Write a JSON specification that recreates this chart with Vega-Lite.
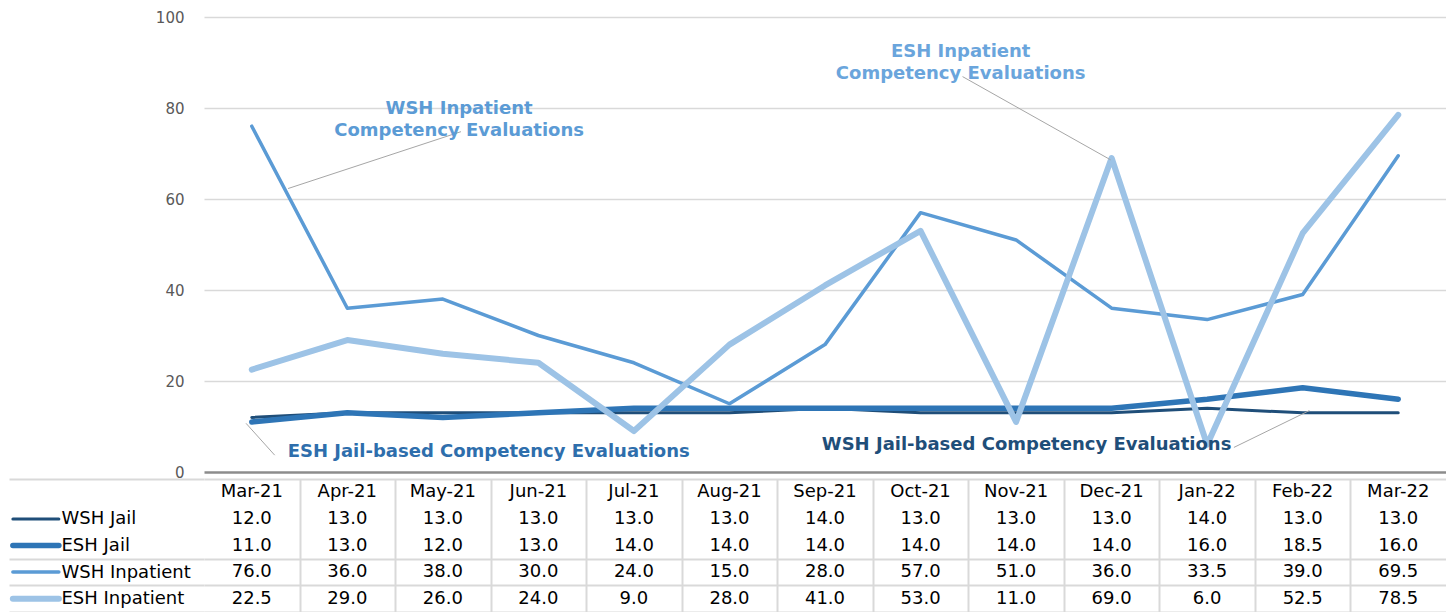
{
  "$schema": "https://vega.github.io/schema/vega-lite/v6.json",
  "padding": {"left": 0, "top": 10, "right": 0, "bottom": 0},
  "background": "white",
  "spacing": 7,
  "bounds": "flush",
  "config": {"view": {"stroke": null}, "font": "DejaVu Sans"},
  "datasets": {
    "evals": [
      {"i": 0, "month": "Mar-21", "series": "WSH Jail", "value": 12},
      {"i": 1, "month": "Apr-21", "series": "WSH Jail", "value": 13},
      {"i": 2, "month": "May-21", "series": "WSH Jail", "value": 13},
      {"i": 3, "month": "Jun-21", "series": "WSH Jail", "value": 13},
      {"i": 4, "month": "Jul-21", "series": "WSH Jail", "value": 13},
      {"i": 5, "month": "Aug-21", "series": "WSH Jail", "value": 13},
      {"i": 6, "month": "Sep-21", "series": "WSH Jail", "value": 14},
      {"i": 7, "month": "Oct-21", "series": "WSH Jail", "value": 13},
      {"i": 8, "month": "Nov-21", "series": "WSH Jail", "value": 13},
      {"i": 9, "month": "Dec-21", "series": "WSH Jail", "value": 13},
      {"i": 10, "month": "Jan-22", "series": "WSH Jail", "value": 14},
      {"i": 11, "month": "Feb-22", "series": "WSH Jail", "value": 13},
      {"i": 12, "month": "Mar-22", "series": "WSH Jail", "value": 13},
      {"i": 0, "month": "Mar-21", "series": "ESH Jail", "value": 11},
      {"i": 1, "month": "Apr-21", "series": "ESH Jail", "value": 13},
      {"i": 2, "month": "May-21", "series": "ESH Jail", "value": 12},
      {"i": 3, "month": "Jun-21", "series": "ESH Jail", "value": 13},
      {"i": 4, "month": "Jul-21", "series": "ESH Jail", "value": 14},
      {"i": 5, "month": "Aug-21", "series": "ESH Jail", "value": 14},
      {"i": 6, "month": "Sep-21", "series": "ESH Jail", "value": 14},
      {"i": 7, "month": "Oct-21", "series": "ESH Jail", "value": 14},
      {"i": 8, "month": "Nov-21", "series": "ESH Jail", "value": 14},
      {"i": 9, "month": "Dec-21", "series": "ESH Jail", "value": 14},
      {"i": 10, "month": "Jan-22", "series": "ESH Jail", "value": 16},
      {"i": 11, "month": "Feb-22", "series": "ESH Jail", "value": 18.5},
      {"i": 12, "month": "Mar-22", "series": "ESH Jail", "value": 16},
      {"i": 0, "month": "Mar-21", "series": "WSH Inpatient", "value": 76},
      {"i": 1, "month": "Apr-21", "series": "WSH Inpatient", "value": 36},
      {"i": 2, "month": "May-21", "series": "WSH Inpatient", "value": 38},
      {"i": 3, "month": "Jun-21", "series": "WSH Inpatient", "value": 30},
      {"i": 4, "month": "Jul-21", "series": "WSH Inpatient", "value": 24},
      {"i": 5, "month": "Aug-21", "series": "WSH Inpatient", "value": 15},
      {"i": 6, "month": "Sep-21", "series": "WSH Inpatient", "value": 28},
      {"i": 7, "month": "Oct-21", "series": "WSH Inpatient", "value": 57},
      {"i": 8, "month": "Nov-21", "series": "WSH Inpatient", "value": 51},
      {"i": 9, "month": "Dec-21", "series": "WSH Inpatient", "value": 36},
      {"i": 10, "month": "Jan-22", "series": "WSH Inpatient", "value": 33.5},
      {"i": 11, "month": "Feb-22", "series": "WSH Inpatient", "value": 39},
      {"i": 12, "month": "Mar-22", "series": "WSH Inpatient", "value": 69.5},
      {"i": 0, "month": "Mar-21", "series": "ESH Inpatient", "value": 22.5},
      {"i": 1, "month": "Apr-21", "series": "ESH Inpatient", "value": 29},
      {"i": 2, "month": "May-21", "series": "ESH Inpatient", "value": 26},
      {"i": 3, "month": "Jun-21", "series": "ESH Inpatient", "value": 24},
      {"i": 4, "month": "Jul-21", "series": "ESH Inpatient", "value": 9},
      {"i": 5, "month": "Aug-21", "series": "ESH Inpatient", "value": 28},
      {"i": 6, "month": "Sep-21", "series": "ESH Inpatient", "value": 41},
      {"i": 7, "month": "Oct-21", "series": "ESH Inpatient", "value": 53},
      {"i": 8, "month": "Nov-21", "series": "ESH Inpatient", "value": 11},
      {"i": 9, "month": "Dec-21", "series": "ESH Inpatient", "value": 69},
      {"i": 10, "month": "Jan-22", "series": "ESH Inpatient", "value": 6},
      {"i": 11, "month": "Feb-22", "series": "ESH Inpatient", "value": 52.5},
      {"i": 12, "month": "Mar-22", "series": "ESH Inpatient", "value": 78.5}
    ],
    "notes": [
      {"note": "WSH Inpatient", "i": 2.17, "v": 79.8, "label": ["WSH Inpatient", "Competency Evaluations"]},
      {"note": "ESH Inpatient", "i": 7.42, "v": 92.2, "label": ["ESH Inpatient", "Competency Evaluations"]},
      {"note": "ESH Jail", "i": 2.48, "v": 4.4, "label": ["ESH Jail-based Competency Evaluations"]},
      {"note": "WSH Jail", "i": 8.11, "v": 5.9, "label": ["WSH Jail-based Competency Evaluations"]}
    ],
    "leaders": [
      {"note": "WSH Inpatient", "i1": 0.38, "v1": 62.3, "i2": 2.19, "v2": 74.8},
      {"note": "ESH Inpatient", "i1": 7.44, "v1": 86.9, "i2": 8.99, "v2": 68.6},
      {"note": "ESH Jail", "i1": -0.06, "v1": 10.7, "i2": 0.24, "v2": 3.7},
      {"note": "WSH Jail", "i1": 10.28, "v1": 5.4, "i2": 11.07, "v2": 13.5}
    ]
  },
  "vconcat": [
    {
      "width": 1242,
      "height": 455,
      "layer": [
        {
          "data": {"name": "evals"},
          "mark": {"type": "line", "strokeJoin": "round", "strokeCap": "round"},
          "encoding": {
            "x": {"field": "i", "type": "quantitative", "scale": {"domain": [-0.5, 12.5], "nice": false, "zero": false}, "axis": null},
            "y": {
              "field": "value", "type": "quantitative",
              "scale": {"domain": [0, 100], "nice": false},
              "axis": {
                "values": [0, 20, 40, 60, 80, 100], "title": null, "domain": false, "ticks": false,
                "labelFont": "DejaVu Sans", "labelFontSize": 15, "labelColor": "#595959", "labelPadding": 20,
                "gridColor": {"condition": {"test": "datum.value === 0", "value": "#8c8c8c"}, "value": "#d9d9d9"},
                "gridWidth": {"condition": {"test": "datum.value === 0", "value": 2.5}, "value": 1.5}
              }
            },
            "color": {"field": "series", "type": "nominal", "scale": {"domain": ["WSH Jail", "ESH Jail", "WSH Inpatient", "ESH Inpatient"], "range": ["#1f4e79", "#2e75b6", "#5b9bd5", "#9dc3e6"]}, "legend": null},
            "strokeWidth": {"field": "series", "type": "ordinal", "scale": {"type": "ordinal", "domain": ["WSH Jail", "ESH Jail", "WSH Inpatient", "ESH Inpatient"], "range": [3, 5.5, 3.5, 6]}, "legend": null}
          }
        },
        {
          "data": {"name": "leaders"},
          "mark": {"type": "rule", "color": "#a6a6a6", "strokeWidth": 1},
          "encoding": {
            "x": {"field": "i1", "type": "quantitative"},
            "x2": {"field": "i2"},
            "y": {"field": "v1", "type": "quantitative"},
            "y2": {"field": "v2"}
          }
        },
        {
          "data": {"name": "notes"},
          "mark": {"type": "text", "font": "DejaVu Sans", "fontWeight": "bold", "fontSize": 18, "lineHeight": 22, "align": "center", "baseline": "middle"},
          "encoding": {
            "x": {"field": "i", "type": "quantitative"},
            "y": {"field": "v", "type": "quantitative"},
            "text": {"field": "label"},
            "fill": {"field": "note", "type": "nominal", "scale": {"domain": ["WSH Inpatient", "ESH Inpatient", "ESH Jail", "WSH Jail"], "range": ["#5b9bd5", "#6aa5dc", "#2e6eac", "#1f4e79"]}, "legend": null}
          }
        }
      ]
    },
    {
      "width": 1242,
      "height": 133,
      "data": {"name": "evals"},
      "encoding": {
        "y": {
          "field": "series", "type": "nominal",
          "scale": {"domain": [" ", "WSH Jail", "ESH Jail", "WSH Inpatient", "ESH Inpatient"], "paddingInner": 0, "paddingOuter": 0},
          "axis": {
            "title": null, "domain": false, "tickBand": "extent",
            "ticks": true, "tickSize": 195, "tickColor": "#d9d9d9", "tickWidth": 2,
            "tickOpacity": {"condition": {"test": "datum.value === ' ' || datum.value === 'WSH Jail'", "value": 0}, "value": 1},
            "grid": true, "gridColor": "#d9d9d9", "gridWidth": 2,
            "gridOpacity": {"condition": {"test": "datum.value === ' ' || datum.value === 'WSH Jail'", "value": 0}, "value": 1},
            "labelAlign": "left", "labelPadding": -52, "labelBaseline": "middle",
            "labelFont": "DejaVu Sans", "labelFontSize": 18, "labelColor": "#000000"
          }
        }
      },
      "layer": [
        {
          "mark": {"type": "text", "font": "DejaVu Sans", "fontSize": 18, "color": "#000000"},
          "encoding": {
            "x": {
              "field": "i", "type": "quantitative",
              "scale": {"domain": [-0.5, 12.5], "nice": false, "zero": false},
              "axis": {"orient": "top", "values": [0.5, 1.5, 2.5, 3.5, 4.5, 5.5, 6.5, 7.5, 8.5, 9.5, 10.5, 11.5], "grid": true, "gridColor": "#d9d9d9", "gridWidth": 2, "labels": false, "ticks": false, "domain": false, "title": null}
            },
            "text": {"field": "value", "type": "quantitative", "format": ".1f"}
          }
        },
        {
          "transform": [{"filter": "datum.series === 'WSH Jail'"}],
          "mark": {"type": "text", "font": "DejaVu Sans", "fontSize": 18, "color": "#000000"},
          "encoding": {
            "x": {"field": "i", "type": "quantitative"},
            "y": {"datum": " ", "type": "nominal"},
            "text": {"field": "month"}
          }
        },
        {
          "transform": [{"filter": "datum.i === 0"}],
          "mark": {"type": "point", "shape": "stroke", "size": 2116, "filled": false, "opacity": 1, "strokeCap": "round"},
          "encoding": {
            "x": {"datum": -2.26, "type": "quantitative"},
            "color": {"field": "series", "type": "nominal", "scale": {"domain": ["WSH Jail", "ESH Jail", "WSH Inpatient", "ESH Inpatient"], "range": ["#1f4e79", "#2e75b6", "#5b9bd5", "#9dc3e6"]}, "legend": null},
            "strokeWidth": {"field": "series", "type": "ordinal", "scale": {"type": "ordinal", "domain": ["WSH Jail", "ESH Jail", "WSH Inpatient", "ESH Inpatient"], "range": [3, 5.5, 3.5, 6]}, "legend": null}
          }
        }
      ]
    }
  ]
}
